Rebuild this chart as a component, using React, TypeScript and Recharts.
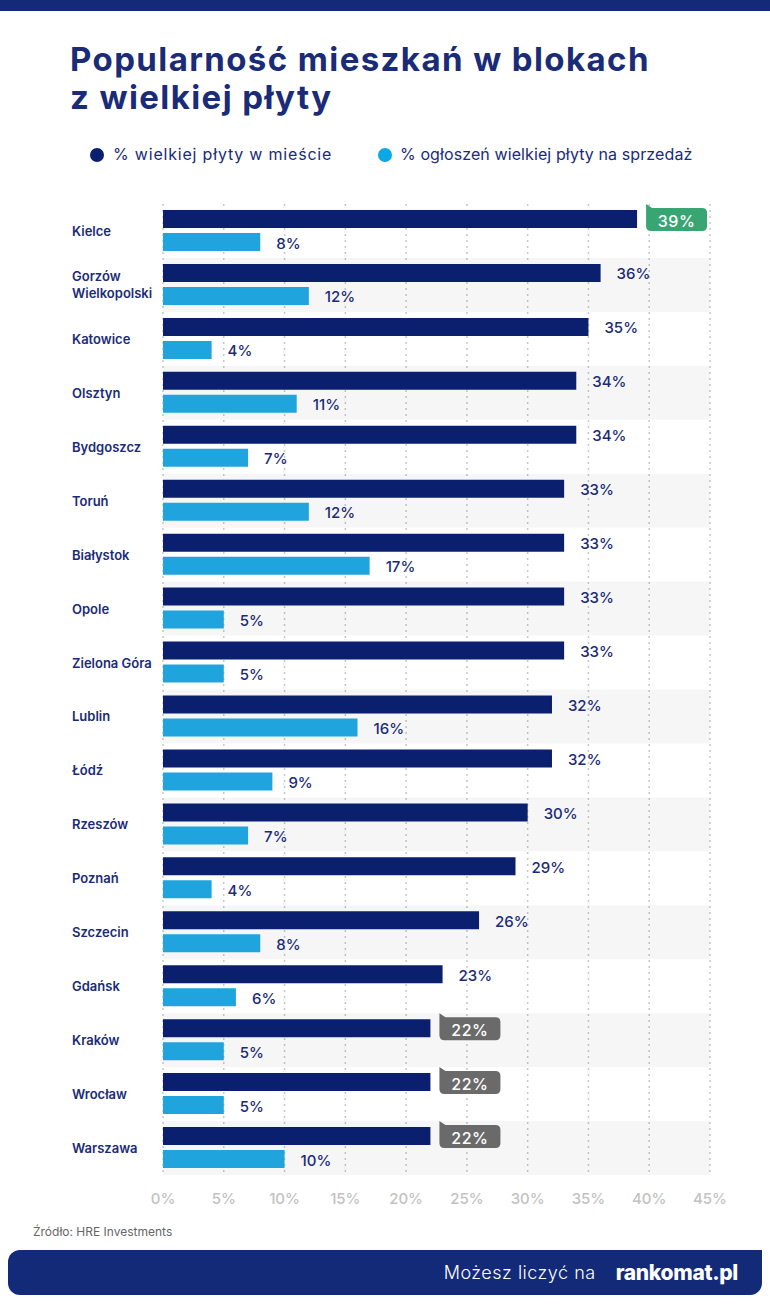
import React from "react";
import {
  BarChart,
  Bar,
  XAxis,
  YAxis,
  CartesianGrid,
  ReferenceArea,
  LabelList,
} from "recharts";

const cities = [
  "Kielce",
  "Gorzów Wielkopolski",
  "Katowice",
  "Olsztyn",
  "Bydgoszcz",
  "Toruń",
  "Białystok",
  "Opole",
  "Zielona Góra",
  "Lublin",
  "Łódź",
  "Rzeszów",
  "Poznań",
  "Szczecin",
  "Gdańsk",
  "Kraków",
  "Wrocław",
  "Warszawa",
];
const shareInCity = [39, 36, 35, 34, 34, 33, 33, 33, 33, 32, 32, 30, 29, 26, 23, 22, 22, 22];
const shareOfListings = [8, 12, 4, 11, 7, 12, 17, 5, 5, 16, 9, 7, 4, 8, 6, 5, 5, 10];
const xTicks = [0, 5, 10, 15, 20, 25, 30, 35, 40, 45];

const NAVY = "#1a2b78";
const DARK_BAR = "#0a1f6e";
const LIGHT_BAR = "#20a4dd";
const FONT = "Inter, 'Open Sans', sans-serif";

const data = cities.map((city, i) => ({
  city,
  share: shareInCity[i],
  listings: shareOfListings[i],
}));

const maxShare = Math.max(...shareInCity);
const minShare = Math.min(...shareInCity);

function CityTick({ y, payload }: any) {
  const name: string = payload.value;
  const lines = name.length > 14 ? name.split(" ") : [name];
  const startY = y - ((lines.length - 1) * 17) / 2;
  return (
    <text
      x={72}
      y={startY}
      fill={NAVY}
      fontSize={13}
      fontWeight={600}
      fontFamily={FONT}
      dominantBaseline="central"
    >
      {lines.map((l, i) => (
        <tspan key={i} x={72} dy={i === 0 ? 0 : 17}>
          {l}
        </tspan>
      ))}
    </text>
  );
}

// badge z "chorągiewką" dla max / min, reszta jako zwykły tekst
function ShareLabel(props: any) {
  const { x, y, width, height, value } = props;
  const end = x + width;
  const cy = y + height / 2;
  if (value === maxShare || value === minShare) {
    const bx = end + 9;
    const by = cy - 11;
    const w = 61;
    const h = 23;
    const r = 5;
    const fill = value === maxShare ? "#38a673" : "#6a6a6a";
    const d = `M${bx},${by - 4} L${bx + 6},${by} L${bx + w - r},${by} Q${bx + w},${by} ${bx + w},${by + r} L${bx + w},${by + h - r} Q${bx + w},${by + h} ${bx + w - r},${by + h} L${bx + r},${by + h} Q${bx},${by + h} ${bx},${by + h - r} Z`;
    return (
      <g>
        <path d={d} fill={fill} />
        <text
          x={bx + w / 2}
          y={by + h / 2 + 1}
          fill="#fff"
          fontSize={16}
          fontWeight={500}
          fontFamily={FONT}
          letterSpacing={0.5}
          textAnchor="middle"
          dominantBaseline="central"
        >
          {value}%
        </text>
      </g>
    );
  }
  return (
    <text
      x={end + 16}
      y={cy + 1}
      fill={NAVY}
      fontSize={15}
      fontWeight={500}
      fontFamily={FONT}
      dominantBaseline="central"
    >
      {value}%
    </text>
  );
}

function ListingLabel(props: any) {
  const { x, y, width, height, value } = props;
  return (
    <text
      x={x + width + 16}
      y={y + height / 2 + 1}
      fill={NAVY}
      fontSize={15}
      fontWeight={500}
      fontFamily={FONT}
      dominantBaseline="central"
    >
      {value}%
    </text>
  );
}

export default function App() {
  return (
    <div
      style={{
        position: "absolute",
        left: 0,
        top: 0,
        width: 770,
        height: 1314,
        background: "#fff",
        fontFamily: FONT,
        overflow: "hidden",
      }}
    >
      <div style={{ position: "absolute", left: 0, top: 0, width: 770, height: 11, background: "#132a78" }} />

      <div
        style={{
          position: "absolute",
          left: 70,
          top: 40,
          color: NAVY,
          fontSize: 33,
          fontWeight: 700,
          lineHeight: "38px",
          letterSpacing: 1.4,
          whiteSpace: "nowrap",
        }}
      >
        Popularność mieszkań w blokach
        <br />
        z wielkiej płyty
      </div>

      {/* legenda */}
      <div style={{ position: "absolute", left: 90, top: 148, width: 14, height: 14, borderRadius: 7, background: DARK_BAR }} />
      <div style={{ position: "absolute", left: 113, top: 144, color: NAVY, fontSize: 16, letterSpacing: 0.8, whiteSpace: "nowrap" }}>
        % wielkiej płyty w mieście
      </div>
      <div style={{ position: "absolute", left: 378, top: 148, width: 14, height: 14, borderRadius: 7, background: "#0aa8e6" }} />
      <div style={{ position: "absolute", left: 400, top: 144, color: NAVY, fontSize: 16, letterSpacing: 0.1, whiteSpace: "nowrap" }}>
        % ogłoszeń wielkiej płyty na sprzedaż
      </div>

      <div style={{ position: "absolute", left: 0, top: 0 }}>
        <BarChart
          width={770}
          height={1215}
          data={data}
          layout="vertical"
          margin={{ top: 204, right: 60, left: 0, bottom: 0 }}
          barSize={18}
          barGap={5}
        >
          {data.map((d, i) =>
            i % 2 === 1 ? (
              <ReferenceArea
                key={d.city}
                y1={d.city}
                y2={d.city}
                fill="#000"
                fillOpacity={0.035}
                stroke="none"
                ifOverflow="visible"
              />
            ) : null
          )}
          <CartesianGrid horizontal={false} stroke="#c8c8c8" strokeDasharray="2 4" strokeWidth={1.5} />
          <XAxis
            type="number"
            domain={[0, 45]}
            ticks={xTicks}
            tickFormatter={(v) => `${v}%`}
            axisLine={false}
            tickLine={false}
            tickMargin={12}
            height={40}
            tick={{ fill: "#c2c2c2", fontSize: 15, fontWeight: 500, fontFamily: FONT }}
          />
          <YAxis
            type="category"
            dataKey="city"
            width={163}
            axisLine={false}
            tickLine={false}
            tick={<CityTick />}
            interval={0}
          />
          <Bar dataKey="share" fill={DARK_BAR} isAnimationActive={false}>
            <LabelList dataKey="share" content={<ShareLabel />} />
          </Bar>
          <Bar dataKey="listings" fill={LIGHT_BAR} isAnimationActive={false}>
            <LabelList dataKey="listings" content={<ListingLabel />} />
          </Bar>
        </BarChart>
      </div>

      <div style={{ position: "absolute", left: 33, top: 1224, color: "#666", fontSize: 12 }}>
        Źródło: HRE Investments
      </div>

      {/* stopka */}
      <div
        style={{
          position: "absolute",
          left: 8,
          top: 1250,
          width: 754,
          height: 45,
          background: "#132a78",
          borderRadius: 12,
          borderTopRightRadius: 0,
          display: "flex",
          alignItems: "center",
          justifyContent: "flex-end",
          paddingRight: 24,
          boxSizing: "border-box",
          color: "#fff",
        }}
      >
        <span style={{ fontSize: 18, fontWeight: 300, letterSpacing: 0.5, marginRight: 20 }}>Możesz liczyć na</span>
        <span style={{ fontSize: 21, fontWeight: 800, letterSpacing: -0.3 }}>rankomat.pl</span>
      </div>
    </div>
  );
}
